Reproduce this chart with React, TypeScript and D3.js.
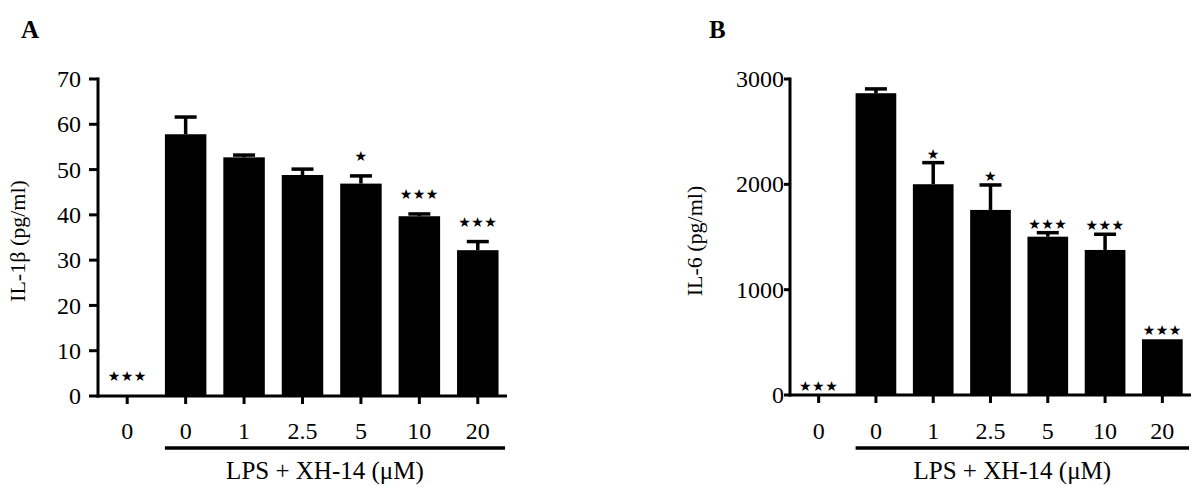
import React from "react";
import * as d3 from "d3";

const categories = ["0", "0", "1", "2.5", "5", "10", "20"];

const il1bMean = [0, 57.8, 52.7, 48.8, 46.9, 39.7, 32.2];
const il1bErr = [0, 3.8, 0.5, 1.3, 1.7, 0.5, 1.9];
const il1bSig = ["***", "", "", "", "*", "***", "***"];
const il1bTicks = [0, 10, 20, 30, 40, 50, 60, 70];

const il6Mean = [0, 2865, 2001, 1757, 1503, 1377, 529];
const il6Err = [0, 41, 205, 237, 38, 149, 0];
const il6Sig = ["***", "", "*", "*", "***", "***", "***"];
const il6Ticks = [0, 1000, 2000, 3000];

const groupLabel = "LPS + XH-14 (μM)";
const FONT = "'Liberation Serif', 'Times New Roman', serif";

type PanelProps = {
  letter: string;
  letterX: number;
  yLabel: string;
  yLabelX: number;
  axisX: number;
  axisEnd: number;
  y0: number;
  yTop: number;
  yMax: number;
  ticks: number[];
  means: number[];
  errs: number[];
  sig: string[];
  sigOffset: number;
  tickLen: number;
  labelGap: number;
  tickFont: number;
};

function Panel(p: PanelProps) {
  const x = d3.scaleBand<number>()
    .domain(d3.range(categories.length))
    .range([p.axisX, p.axisEnd])
    .paddingInner(0.29)
    .paddingOuter(0.145);
  const y = d3.scaleLinear().domain([0, p.yMax]).range([p.y0, p.yTop]);
  const bw = x.bandwidth();
  const cx = (i: number) => (x(i) as number) + bw / 2;
  const lineStart = x(1) as number;
  const lineEnd = p.axisEnd - 2;
  return (
    <g>
      <text x={p.letterX} y={38} fontFamily={FONT} fontWeight="bold" fontSize={25}>{p.letter}</text>
      <text
        transform={`translate(${p.yLabelX},${241}) rotate(-90)`}
        textAnchor="middle"
        fontFamily={FONT}
        fontSize={22}
      >{p.yLabel}</text>
      {p.means.map((m, i) => (
        m > 0 ? (
          <rect key={"b" + i} x={x(i)} y={y(m)} width={bw} height={p.y0 - y(m)} fill="#000" />
        ) : null
      ))}
      {p.means.map((m, i) => (
        p.errs[i] > 0 ? (
          <g key={"e" + i} stroke="#000" strokeWidth={3.5}>
            <line x1={cx(i)} x2={cx(i)} y1={y(m)} y2={y(m + p.errs[i])} />
            <line x1={cx(i) - 11} x2={cx(i) + 11} y1={y(m + p.errs[i])} y2={y(m + p.errs[i])} />
          </g>
        ) : null
      ))}
      {p.sig.map((s, i) => (
        s ? (
          <text
            key={"s" + i}
            x={cx(i)}
            y={y(p.means[i] + p.errs[i]) - p.sigOffset + 10}
            textAnchor="middle"
            fontFamily="'DejaVu Sans', sans-serif"
            fontWeight="bold"
            fontSize={14}
            letterSpacing={0.5}
          >{s.replace(/\*/g, "★")}</text>
        ) : null
      ))}
      <line x1={p.axisX} x2={p.axisX} y1={p.yTop - 1.5} y2={p.y0 + 1.5} stroke="#000" strokeWidth={3} />
      {p.ticks.map((t) => (
        <g key={"yt" + t}>
          <line x1={p.axisX - p.tickLen} x2={p.axisX} y1={y(t)} y2={y(t)} stroke="#000" strokeWidth={3} />
          <text
            x={p.axisX - p.tickLen - p.labelGap}
            y={y(t)}
            dy="0.34em"
            textAnchor="end"
            fontFamily={FONT}
            fontSize={p.tickFont}
          >{t}</text>
        </g>
      ))}
      <line x1={p.axisX - 1.5} x2={p.axisEnd} y1={p.y0} y2={p.y0} stroke="#000" strokeWidth={3} />
      {categories.map((c, i) => (
        <g key={"xt" + i}>
          <line x1={cx(i)} x2={cx(i)} y1={p.y0} y2={p.y0 + 8} stroke="#000" strokeWidth={3} />
          <text x={cx(i)} y={439} textAnchor="middle" fontFamily={FONT} fontSize={24}>{c}</text>
        </g>
      ))}
      <line x1={lineStart} x2={lineEnd} y1={448} y2={448} stroke="#000" strokeWidth={3.5} />
      <text x={(lineStart + lineEnd) / 2 - 10} y={479} textAnchor="middle" fontFamily={FONT} fontSize={25}>{groupLabel}</text>
    </g>
  );
}

export default function App() {
  return (
    <svg width={1200} height={486} style={{ position: "absolute", left: 0, top: 0, background: "#fff" }}>
      <rect width={1200} height={486} fill="#fff" />
      <Panel
        letter="A" letterX={21} yLabel="IL-1β (pg/ml)" yLabelX={25}
        axisX={98} axisEnd={507} y0={396} yTop={79} yMax={70}
        ticks={il1bTicks} means={il1bMean} errs={il1bErr} sig={il1bSig}
        sigOffset={25} tickLen={9} labelGap={8} tickFont={24}
      />
      <Panel
        letter="B" letterX={709} yLabel="IL-6 (pg/ml)" yLabelX={702}
        axisX={790} axisEnd={1191} y0={395} yTop={79} yMax={3000}
        ticks={il6Ticks} means={il6Mean} errs={il6Err} sig={il6Sig}
        sigOffset={14} tickLen={6} labelGap={0} tickFont={24}
      />
    </svg>
  );
}
